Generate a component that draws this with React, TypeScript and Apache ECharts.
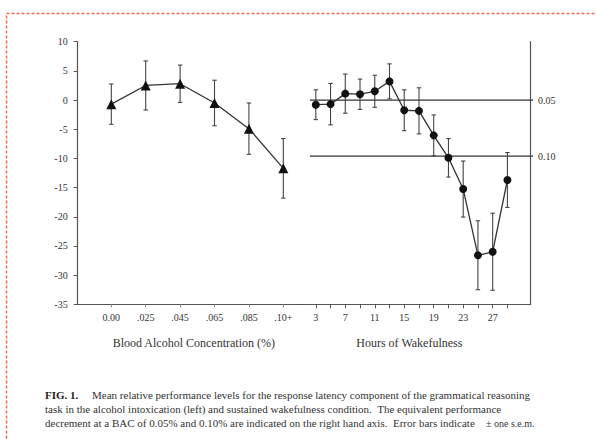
import React, { useEffect, useRef } from "react";
import * as echarts from "echarts";

// ---- data ----
const bacLabels = ["0.00", ".025", ".045", ".065", ".085", ".10+"];
const bacIndex = [0, 1, 2, 3, 4, 5];
const bacMean = [-0.7, 2.5, 2.8, -0.5, -4.9, -11.7];
const bacErr = [3.45, 4.2, 3.2, 3.9, 4.4, 5.1];

const hours = [3, 5, 7, 9, 11, 13, 15, 17, 19, 21, 23, 25, 27, 29];
const wakeMean = [-0.8, -0.7, 1.1, 1.0, 1.5, 3.2, -1.75, -1.85, -6.05, -9.9, -15.25, -26.6, -26.0, -13.7];
const wakeErr = [2.55, 3.55, 3.35, 2.6, 2.75, 3.0, 3.5, 3.95, 3.5, 3.3, 4.8, 5.9, 6.6, 4.7];

const hourTicks = [3, 5, 7, 9, 11, 13, 15, 17, 19, 21, 23, 25, 27, 29];
const hourLabels = [3, 7, 11, 15, 19, 23, 27];

const refLabels = ["0.05", "0.10"];
const refValues = [0, -9.6];
const refSpan = [2.2, 32.75];

const captionLines = [
  "Mean relative performance levels for the response latency component of the grammatical reasoning",
  "task in the alcohol intoxication (left) and sustained wakefulness condition.  The equivalent performance",
  "decrement at a BAC of 0.05% and 0.10% are indicated on the right hand axis.  Error bars indicate",
];
const captionTail = "\u00B1 one s.e.m.";

const FONT = "Liberation Serif";
const INK = "#333";

function errorBarSeries(xs: number[], means: number[], errs: number[], axisIdx: number) {
  return {
    type: "custom",
    xAxisIndex: axisIdx,
    yAxisIndex: axisIdx,
    silent: true,
    z: 3,
    data: xs.map((x, i) => [x, means[i], errs[i]]),
    encode: { x: 0, y: 1 },
    renderItem: (params: any, api: any) => {
      const x = api.value(0);
      const y = api.value(1);
      const e = api.value(2);
      const top = api.coord([x, y + e]);
      const bot = api.coord([x, y - e]);
      const style = { stroke: "#444", lineWidth: 1.1 };
      const cap = 2.2;
      return {
        type: "group",
        children: [
          { type: "line", shape: { x1: top[0], y1: top[1], x2: bot[0], y2: bot[1] }, style },
          { type: "line", shape: { x1: top[0] - cap, y1: top[1], x2: top[0] + cap, y2: top[1] }, style },
          { type: "line", shape: { x1: bot[0] - cap, y1: bot[1], x2: bot[0] + cap, y2: bot[1] }, style },
        ],
      };
    },
  };
}

export default function App() {
  const ref = useRef<HTMLDivElement>(null);

  useEffect(() => {
    if (!ref.current) return;
    const chart = echarts.init(ref.current, null, { renderer: "svg" });

    const axisLine = { show: true, onZero: false, lineStyle: { color: "#555", width: 1.2 } };
    const labelStyle = { color: INK, fontFamily: FONT, fontSize: 10 };

    const option: any = {
      animation: false,
      backgroundColor: "#fff",
      grid: [
        { left: 77.7, top: 41.7, width: 222.3, height: 262.6 },
        { left: 300, top: 41.7, width: 230.7, height: 262.6 },
      ],
      xAxis: [
        {
          type: "value",
          gridIndex: 0,
          min: -0.977,
          max: 5.485,
          axisLine,
          splitLine: { show: false },
          axisTick: { show: true, length: 3, customValues: bacIndex, lineStyle: { color: "#888" } },
          axisLabel: {
            ...labelStyle,
            margin: 8,
            customValues: bacIndex,
            formatter: (v: number) => bacLabels[Math.round(v)] ?? "",
          },
          name: "Blood Alcohol Concentration (%)",
          nameLocation: "middle",
          nameGap: 33,
          nameTextStyle: { color: INK, fontFamily: FONT, fontSize: 12, padding: [0, 0, 0, 10] },
        },
        {
          type: "value",
          gridIndex: 1,
          min: 0.856,
          max: 32.16,
          axisLine,
          splitLine: { show: false },
          axisTick: { show: true, length: 4, customValues: hourTicks, lineStyle: { color: "#555" } },
          axisLabel: { ...labelStyle, margin: 8, customValues: hourLabels },
          name: "Hours of Wakefulness",
          nameLocation: "middle",
          nameGap: 33,
          nameTextStyle: { color: INK, fontFamily: FONT, fontSize: 12, padding: [0, 12, 0, 0] },
        },
      ],
      yAxis: [
        {
          type: "value",
          gridIndex: 0,
          min: -35,
          max: 10,
          interval: 5,
          axisLine,
          splitLine: { show: false },
          axisTick: { show: true, length: 4, lineStyle: { color: "#555" } },
          axisLabel: { ...labelStyle, margin: 10 },
        },
        {
          type: "value",
          gridIndex: 1,
          position: "right",
          min: -35,
          max: 10,
          interval: 5,
          axisLine,
          splitLine: { show: false },
          axisTick: { show: false },
          axisLabel: { show: false },
        },
      ],
      series: [
        ...refValues.map((v, i) => ({
          type: "line",
          xAxisIndex: 1,
          yAxisIndex: 1,
          clip: false,
          silent: true,
          symbol: "none",
          z: 1,
          lineStyle: { color: "#333", width: 1.3 },
          data: [
            [refSpan[0], v],
            [refSpan[1], v],
          ],
          endLabel: {
            show: true,
            formatter: refLabels[i],
            distance: 5,
            color: INK,
            fontFamily: FONT,
            fontSize: 10,
          },
        })),
        errorBarSeries(bacIndex, bacMean, bacErr, 0),
        errorBarSeries(hours, wakeMean, wakeErr, 1),
        {
          type: "line",
          xAxisIndex: 0,
          yAxisIndex: 0,
          z: 4,
          symbol: "triangle",
          symbolSize: 10,
          itemStyle: { color: "#111" },
          lineStyle: { color: "#333", width: 1.3 },
          data: bacIndex.map((x, i) => [x, bacMean[i]]),
        },
        {
          type: "line",
          xAxisIndex: 1,
          yAxisIndex: 1,
          z: 4,
          symbol: "circle",
          symbolSize: 8,
          itemStyle: { color: "#111" },
          lineStyle: { color: "#333", width: 1.3 },
          data: hours.map((x, i) => [x, wakeMean[i]]),
        },
      ],
      graphic: [
        {
          type: "rect",
          silent: true,
          shape: { x: 6.5, y: 13.5, width: 600, height: 440 },
          style: { fill: "none", stroke: "#f26a4b", lineWidth: 1.5, lineDash: [3, 2] },
        },
        {
          type: "text",
          x: 45,
          y: 395,
          style: {
            text: "{b|FIG. 1.}     " + captionLines[0],
            fontFamily: FONT,
            fontSize: 11,
            fill: INK,
            verticalAlign: "middle",
            rich: { b: { fontFamily: FONT, fontSize: 11, fontWeight: "bold", fill: "#222" } },
          },
        },
        ...captionLines.slice(1).map((t, i) => ({
          type: "text",
          x: 45,
          y: 409 + i * 14,
          style: { text: t, fontFamily: FONT, fontSize: 11, fill: INK, verticalAlign: "middle" },
        })),
        {
          type: "text",
          x: 486,
          y: 423,
          style: { text: captionTail, fontFamily: FONT, fontSize: 10, fill: INK, verticalAlign: "middle" },
        },
      ],
    };

    chart.setOption(option);
    return () => chart.dispose();
  }, []);

  return (
    <div
      ref={ref}
      style={{ position: "fixed", left: 0, top: 0, width: 596, height: 439, background: "#fff" }}
    />
  );
}
